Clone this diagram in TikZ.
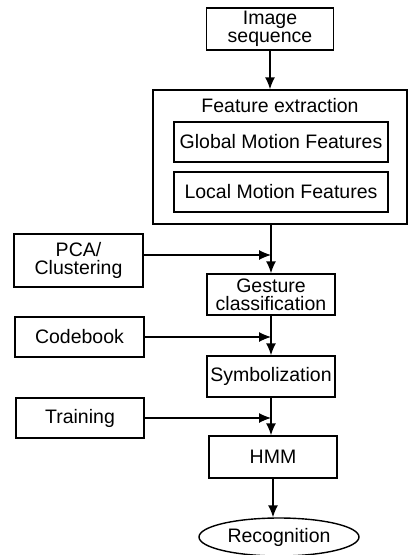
\documentclass[tikz,border=0pt]{standalone}
\usepackage{fontspec}
\setmainfont{Liberation Sans}
\usepackage{tikz}
\usetikzlibrary{positioning}
\usetikzlibrary{shapes.geometric}
\usetikzlibrary{arrows.meta}

\begin{document}
\begin{tikzpicture}[
    x=1pt, y=-1pt,
    block/.style={rectangle, draw, line width=1.4pt, inner sep=0pt, align=center,
        font=\fontsize{19.5}{21}\selectfont},
    arrow/.style={-{Latex[length=12pt,width=10pt]}, line width=1.4pt},
    side/.style={-{Latex[length=12pt,width=10pt]}, line width=1.1pt}
]
    \useasboundingbox (0,0) rectangle (408,555);

    % Main column
    \node[block, minimum width=127pt, minimum height=42pt] (img) at (270,29) {Image\\[-3pt]sequence};

    % Feature extraction
    \node[block, minimum width=254pt, minimum height=134pt] (feat) at (280,157) {};
    \node[font=\fontsize{19.5}{21}\selectfont] (feattitle) at (280,106) {Feature extraction};
    \node[block, minimum width=214pt, minimum height=40pt] (global) at (281,142) {Global Motion Features};
    \node[block, minimum width=214pt, minimum height=40pt] (local) at (281,192) {Local Motion Features};

    \node[block, minimum width=128pt, minimum height=41pt] (gest) at (271,294.5) {Gesture\\[-3pt]classification};
    \node[block, minimum width=128pt, minimum height=41pt] (sym) at (271,376.5) {Symbolization};
    \node[block, minimum width=128pt, minimum height=42pt] (hmm) at (273,457) {HMM};
    \node[ellipse, draw, line width=1.4pt, minimum width=160pt, minimum height=38pt,
        inner sep=0pt, font=\fontsize{19.5}{21}\selectfont] (rec) at (279,537) {Recognition};

    % Side inputs
    \node[block, minimum width=129pt, minimum height=53pt] (pca) at (78.5,260.5) {PCA/\\[-3pt]Clustering};
    \node[block, minimum width=129pt, minimum height=40pt] (code) at (79.5,337) {Codebook};
    \node[block, minimum width=128pt, minimum height=40pt] (train) at (80,418) {Training};

    % Flow
    \draw[arrow] (img.south) -- (feat.north -| img.south);
    \draw[arrow] (feat.south -| gest.north) -- (gest.north);
    \draw[arrow] (gest.south) -- (sym.north);
    \draw[arrow] (sym.south) -- (sym.south |- hmm.north);
    \draw[arrow] (hmm.south) -- (hmm.south |- rec.north);

    % Inputs into the column
    \draw[side] (pca.east |- 0,255) -- (gest.north |- 0,255);
    \draw[side] (code.east) -- (code.east -| gest.north);
    \draw[side] (train.east) -- (train.east -| sym.south);
\end{tikzpicture}
\end{document}
